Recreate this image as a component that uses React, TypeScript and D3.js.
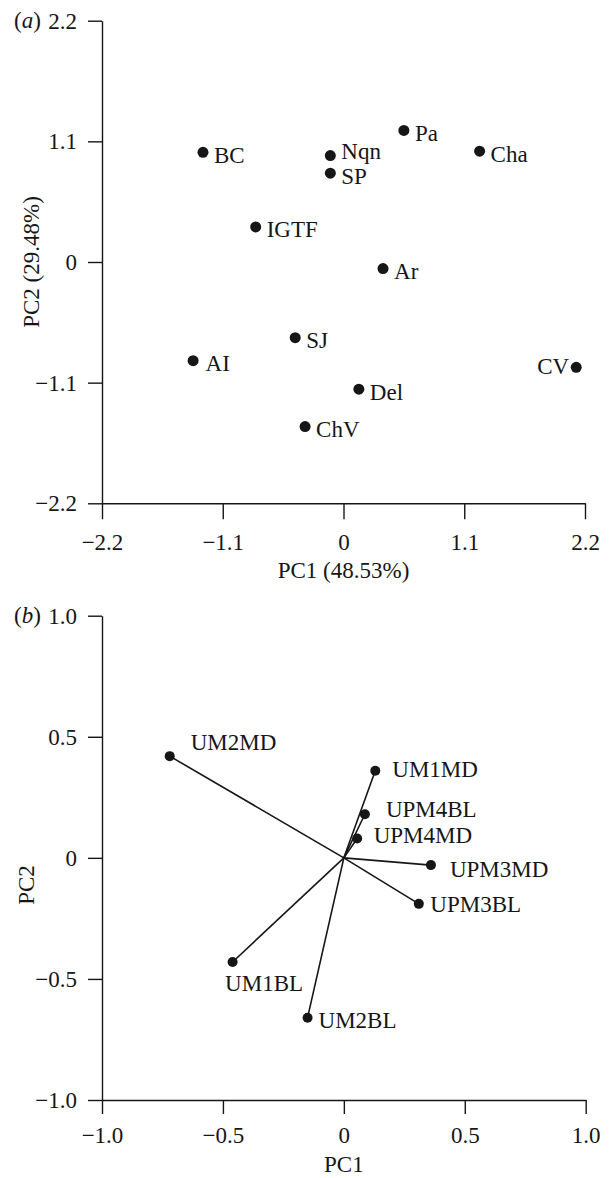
import { useEffect, useRef } from "react";
import * as d3 from "d3";

// (a) sites on the first two PCs
const sites = ["BC", "Nqn", "SP", "Pa", "Cha", "IGTF", "Ar", "AI", "SJ", "Del", "ChV", "CV"];
const sitePC1 = [-1.28, -0.12, -0.12, 0.55, 1.24, -0.8, 0.36, -1.37, -0.44, 0.14, -0.35, 2.12];
const sitePC2 = [1.0, 0.97, 0.81, 1.2, 1.01, 0.32, -0.06, -0.9, -0.69, -1.16, -1.5, -0.96];
const siteTicks = [-2.2, -1.1, 0, 1.1, 2.2];

// (b) trait loadings
const traits = ["UM2MD", "UM1MD", "UPM4BL", "UPM4MD", "UPM3MD", "UPM3BL", "UM1BL", "UM2BL"];
const traitPC1 = [-0.72, 0.13, 0.087, 0.055, 0.36, 0.31, -0.46, -0.15];
const traitPC2 = [0.42, 0.36, 0.18, 0.08, -0.03, -0.19, -0.43, -0.66];
const traitTicks = [-1, -0.5, 0, 0.5, 1];

const FONT = "'Liberation Serif', 'Times New Roman', serif";
const INK = "#161616";
const FS = 23;

type Place = { dx: number; dy: number; anchor?: string };
const sitePlace: Record<string, Place> = {
  Nqn: { dx: 11, dy: 3 },
  AI: { dx: 12.5, dy: 10.5 },
  CV: { dx: -7, dy: 7, anchor: "end" },
};
const traitPlace: Record<string, Place> = {
  UM2MD: { dx: 21, dy: -6.5 },
  UM1MD: { dx: 17, dy: 6 },
  UPM4BL: { dx: 21, dy: 2.5 },
  UPM4MD: { dx: 16.5, dy: 5 },
  UPM3MD: { dx: 19, dy: 11.5 },
  UPM3BL: { dx: 11.5, dy: 8.5 },
  UM1BL: { dx: -7.5, dy: 29 },
  UM2BL: { dx: 11, dy: 10.5 },
};

const fmtTick = (v: number) => (v === 0 ? "0" : d3.format(".1f")(v));

type Sel = d3.Selection<SVGSVGElement, unknown, null, undefined>;

const styleAxis = (g: d3.Selection<SVGGElement, unknown, null, undefined>) => {
  g.attr("font-size", FS).attr("font-family", FONT);
  g.selectAll("path, line").attr("stroke", INK).attr("stroke-width", 1.4);
  g.selectAll("text").attr("fill", INK);
};

function drawAxes(
  svg: Sel,
  x: d3.ScaleLinear<number, number>,
  y: d3.ScaleLinear<number, number>,
  ticks: number[],
  xTickLen: number,
  yTickLen: number,
  xPad: number
) {
  const left = x.range()[0];
  const bottom = y.range()[0];

  const ya = svg.append("g").attr("transform", `translate(${left},0)`);
  ya.call(
    d3.axisLeft(y).tickValues(ticks).tickFormat((d) => fmtTick(+d)).tickSize(yTickLen).tickSizeOuter(0).tickPadding(11)
  );
  styleAxis(ya);

  const xa = svg.append("g").attr("transform", `translate(0,${bottom})`);
  xa.call(
    d3.axisBottom(x).tickValues(ticks).tickFormat((d) => fmtTick(+d)).tickSize(xTickLen).tickSizeOuter(0).tickPadding(xPad)
  );
  styleAxis(xa);
}

function addText(svg: Sel, txt: string, x: number, y: number, anchor = "start") {
  return svg
    .append("text")
    .attr("x", x)
    .attr("y", y)
    .attr("text-anchor", anchor)
    .attr("font-family", FONT)
    .attr("font-size", FS)
    .attr("fill", INK)
    .text(txt);
}

function addTag(svg: Sel, letter: string, y: number) {
  const t = svg
    .append("text")
    .attr("x", 14)
    .attr("y", y)
    .attr("dy", "0.32em")
    .attr("font-family", FONT)
    .attr("font-size", FS)
    .attr("fill", INK);
  t.append("tspan").text("(");
  t.append("tspan").attr("font-style", "italic").text(letter);
  t.append("tspan").text(")");
}

export default function App() {
  const svgRef = useRef<SVGSVGElement>(null);

  useEffect(() => {
    if (!svgRef.current) return;
    const svg = d3.select(svgRef.current);
    svg.selectAll("*").remove();

    // ---------- panel (a)
    const xa = d3.scaleLinear().domain([-2.2, 2.2]).range([102, 585]);
    const ya = d3.scaleLinear().domain([-2.2, 2.2]).range([503.3, 20.7]);
    drawAxes(svg, xa, ya, siteTicks, 16, 14, 14);
    addTag(svg, "a", ya(2.2));

    svg
      .append("g")
      .selectAll("circle")
      .data(sites)
      .join("circle")
      .attr("cx", (_, i) => xa(sitePC1[i]))
      .attr("cy", (_, i) => ya(sitePC2[i]))
      .attr("r", 5.5)
      .attr("fill", INK);

    sites.forEach((s, i) => {
      const p = sitePlace[s] ?? { dx: 11, dy: 10.5 };
      addText(svg, s, xa(sitePC1[i]) + p.dx, ya(sitePC2[i]) + p.dy, p.anchor ?? "start");
    });

    addText(svg, "PC1 (48.53%)", xa(0), 578, "middle");
    addText(svg, "PC2 (29.48%)", 0, 0, "middle").attr("transform", `translate(39,${ya(0)}) rotate(-90)`);

    // ---------- panel (b)
    const xb = d3.scaleLinear().domain([-1, 1]).range([102, 585.7]);
    const yb = d3.scaleLinear().domain([-1, 1]).range([1100, 615.7]);
    drawAxes(svg, xb, yb, traitTicks, 14, 14, 13);
    addTag(svg, "b", yb(1));

    svg
      .append("g")
      .selectAll("line")
      .data(traits)
      .join("line")
      .attr("x1", xb(0))
      .attr("y1", yb(0))
      .attr("x2", (_, i) => xb(traitPC1[i]))
      .attr("y2", (_, i) => yb(traitPC2[i]))
      .attr("stroke", INK)
      .attr("stroke-width", 1.6);

    svg
      .append("g")
      .selectAll("circle")
      .data(traits)
      .join("circle")
      .attr("cx", (_, i) => xb(traitPC1[i]))
      .attr("cy", (_, i) => yb(traitPC2[i]))
      .attr("r", 5)
      .attr("fill", INK);

    traits.forEach((t, i) => {
      const p = traitPlace[t];
      addText(svg, t, xb(traitPC1[i]) + p.dx, yb(traitPC2[i]) + p.dy);
    });

    addText(svg, "PC1", xb(0), 1172, "middle");
    addText(svg, "PC2", 0, 0, "middle").attr("transform", `translate(34,885) rotate(-90)`);
  }, []);

  return (
    <svg
      ref={svgRef}
      width={616}
      height={1178}
      style={{ position: "absolute", left: 0, top: 0, background: "#fff" }}
    />
  );
}
